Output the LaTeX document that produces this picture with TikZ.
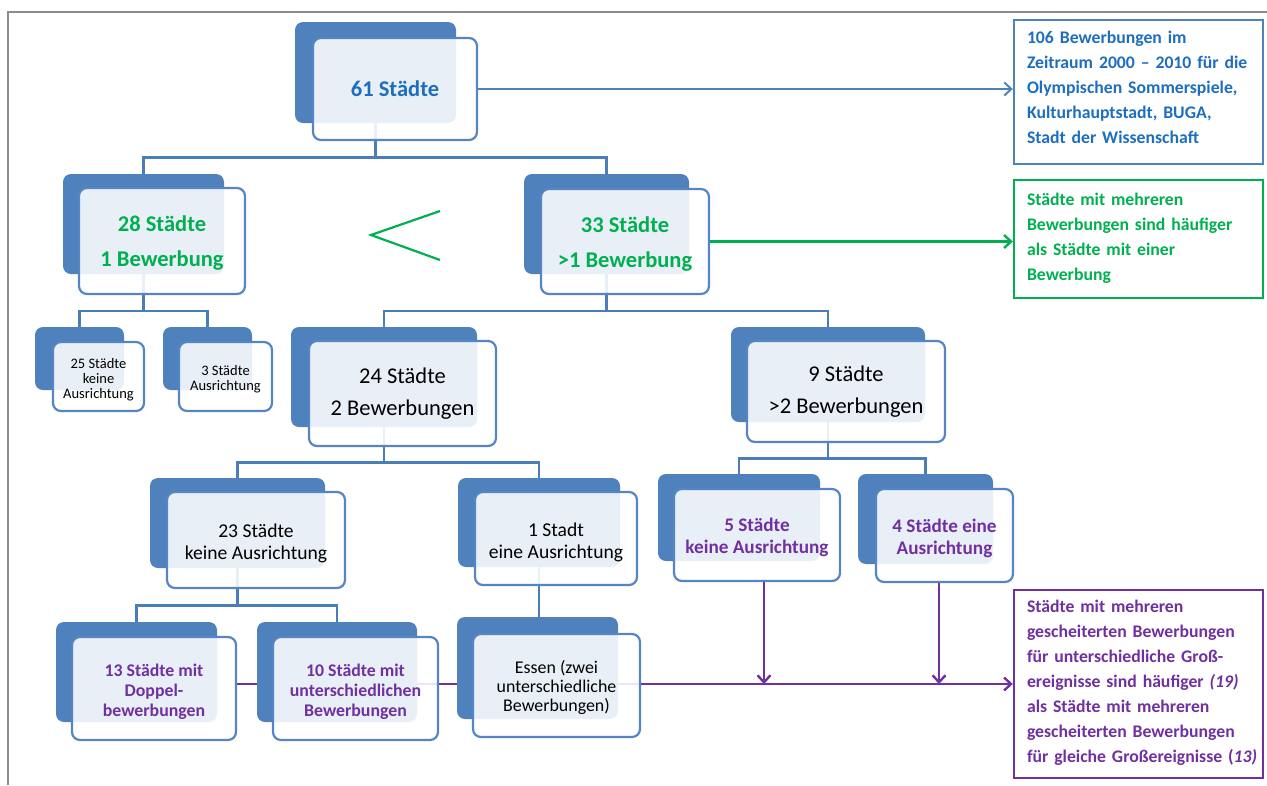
\documentclass[tikz,border=0pt]{standalone}
\usepackage{fontspec}
\setmainfont{Carlito}
\usetikzlibrary{fit,calc,arrows.meta}

\definecolor{deep}{HTML}{4F81BD}
\definecolor{rim}{HTML}{5585C2}
\definecolor{wire}{HTML}{4A7DBA}
\definecolor{infoblue}{HTML}{1E6EC0}
\definecolor{boxblue}{HTML}{4F81BD}
\definecolor{okgreen}{HTML}{00B050}
\definecolor{violet}{HTML}{7030A0}
\definecolor{framegray}{HTML}{8C8C8C}

\pgfdeclarelayer{background}
\pgfsetlayers{background,main}

\tikzset{
  backcard/.style={fill=deep, draw=none, rounded corners=8pt, inner sep=0pt},
  frontcard/.style={fill=white, fill opacity=0.88, draw=rim,
    line width=2.2pt, rounded corners=8pt, inner sep=0pt},
  cardtext/.style={inner sep=0pt, align=center},
  conn/.style={draw=wire, line width=2.2pt},
  tblue/.style={text=infoblue, font=\bfseries\fontsize{22.5}{33}\selectfont},
  tgreen/.style={text=okgreen, yshift=-2.5pt, font=\bfseries\fontsize{22.5}{35}\selectfont},
  tlarge/.style={text=black, font=\fontsize{22.5}{32}\selectfont},
  tmid/.style={text=black, yshift=-3.5pt, font=\fontsize{19.6}{22}\selectfont},
  tpurple/.style={text=violet, yshift=-2.5pt, font=\bfseries\fontsize{19.2}{22}\selectfont},
  tpurplesm/.style={text=violet, yshift=-3pt, font=\bfseries\fontsize{17.8}{20}\selectfont},
  tessen/.style={text=black, yshift=-2pt, font=\fontsize{17.9}{19}\selectfont},
  tsmall/.style={text=black, yshift=-3pt, font=\fontsize{14.5}{15}\selectfont},
  noteframe/.style={line width=2.4pt, fill=white, inner sep=0pt},
  notetext/.style={align=left, text width=226pt, inner sep=0pt,
    font=\bfseries\fontsize{17.7}{25}\selectfont},
  tip/.style={-{Straight Barb[length=7pt,width=13pt]}},
}

% two stacked cards: solid back card, translucent front card, text centred on the front card
\newcommand\duocard[5]{%
  \node[backcard, fit={#2}] (#1b) {};
  \node[frontcard, fit={#3}] (#1) {};
  \node[cardtext, #4] (#1t) at (#1.center) {#5};}

% elbow connector from a parent card down to a child card
\newcommand\branch[2]{%
  \draw[conn] (#1b.south) --
    ($(#1b.center |- #1.south)!.5!(#1b.center |- #2b.north)$) -| (#2b.north);}

\begin{document}
\begin{tikzpicture}[x=1pt, y=-1pt]
\useasboundingbox (0,0) rectangle (1267,785);

% page frame
\draw[framegray, line width=1.6pt] (8,785) -- (8,12) -- (1267,12);

% cards
\duocard{c61}{(295,22) (456,123)}{(313,38) (477,140)}{tblue}{61 Städte}
\duocard{c28}{(63,174) (224,274)}{(79,188) (245,294)}{tgreen}{28 Städte\\1 Bewerbung}
\duocard{c33}{(524,174) (689,274)}{(541,189) (709,294)}{tgreen}{33 Städte\\>1 Bewerbung}
\duocard{c25}{(35,327) (124,390)}{(53,342) (144,411)}{tsmall}{25 Städte\\keine\\Ausrichtung}
\duocard{c3}{(163,327) (252,390)}{(179,342) (272,411)}{tsmall}{3 Städte\\Ausrichtung}
\duocard{c24}{(291,327) (477,427)}{(309,341) (496,446)}{tlarge}{24 Städte\\2 Bewerbungen}
\duocard{c9}{(731,327) (925,422)}{(747,341) (945,442)}{tlarge}{9 Städte\\>2 Bewerbungen}
\duocard{c23}{(150,478) (325,568)}{(167,492) (345,588)}{tmid}{23 Städte\\keine Ausrichtung}
\duocard{cone}{(458,478) (620,567)}{(475,492) (637,585)}{tmid}{1 Stadt\\eine Ausrichtung}
\duocard{c5}{(658,474) (820,561)}{(674,489) (840,581)}{tpurple}{5 Städte\\keine Ausrichtung}
\duocard{c4}{(858,474) (993,564)}{(876,489) (1013,582)}{tpurple}{4 Städte eine\\Ausrichtung}
\duocard{c13}{(56,622) (217,722)}{(72,637) (236,740)}{tpurplesm}{13 Städte mit\\Doppel-\\bewerbungen}
\duocard{c10}{(257,622) (417,722)}{(273,637) (438,740)}{tpurplesm}{10 Städte mit\\unterschiedlichen\\Bewerbungen}
\duocard{ce}{(457,617) (618,719)}{(473,634) (640,737)}{tessen}{Essen (zwei\\unterschiedliche\\Bewerbungen)}

% comparison sign between the two groups
\draw[okgreen, line width=2.2pt] (440,211) -- (371,235) -- (440,260);

% findings
\node[noteframe, draw=boxblue, fit={(1014,20) (1263,164)}] (nb) {};
\node[notetext, text=infoblue] (nbt) at ([shift={(1.5pt,4.5pt)}]nb.center)
  {106 Bewerbungen im\\Zeitraum 2000 – 2010 für die\\Olympischen Sommerspiele,\\Kulturhauptstadt, BUGA,\\Stadt der Wissenschaft};
\node[noteframe, draw=okgreen, fit={(1014,180) (1263,298)}] (ng) {};
\node[notetext, text=okgreen] (ngt) at ([shift={(1.5pt,0.5pt)}]ng.center)
  {Städte mit mehreren\\Bewerbungen sind häufiger\\als Städte mit einer\\Bewerbung};
\node[noteframe, draw=violet, fit={(1014,590) (1263,778)}] (np) {};
\node[notetext, text=violet] (npt) at ([shift={(1.5pt,1pt)}]np.center)
  {Städte mit mehreren\\gescheiterten Bewerbungen\\für unterschiedliche Groß-\\ereignisse sind häufiger \textit{(19)}\\als Städte mit mehreren\\gescheiterten Bewerbungen\\\mbox{für gleiche Großereignisse (\textit{13)}}};

\begin{pgfonlayer}{background}
  \branch{c61}{c28}
  \branch{c61}{c33}
  \branch{c28}{c25}
  \branch{c28}{c3}
  \branch{c33}{c24}
  \branch{c33}{c9}
  \branch{c24}{c23}
  \branch{c24}{cone}
  \branch{c9}{c5}
  \branch{c9}{c4}
  \branch{c23}{c13}
  \branch{c23}{c10}
  \draw[conn] (coneb.south) -- (coneb.center |- ceb.north);
  \draw[violet, line width=2.4pt, tip] (c13.east |- np.west) -- (np.west);
\end{pgfonlayer}

\draw[boxblue, line width=2pt, tip] (c61.east) -- (c61.east -| nb.west);
\draw[okgreen, line width=2.4pt, tip] (c33.east) -- (c33.east -| ng.west);
\draw[violet, line width=2.4pt, tip] ([xshift=7pt]c5.south) -- ([xshift=7pt]c5.south |- np.west);
\draw[violet, line width=2.4pt, tip] ([xshift=-5.5pt]c4.south) -- ([xshift=-5.5pt]c4.south |- np.west);
\end{tikzpicture}
\end{document}
